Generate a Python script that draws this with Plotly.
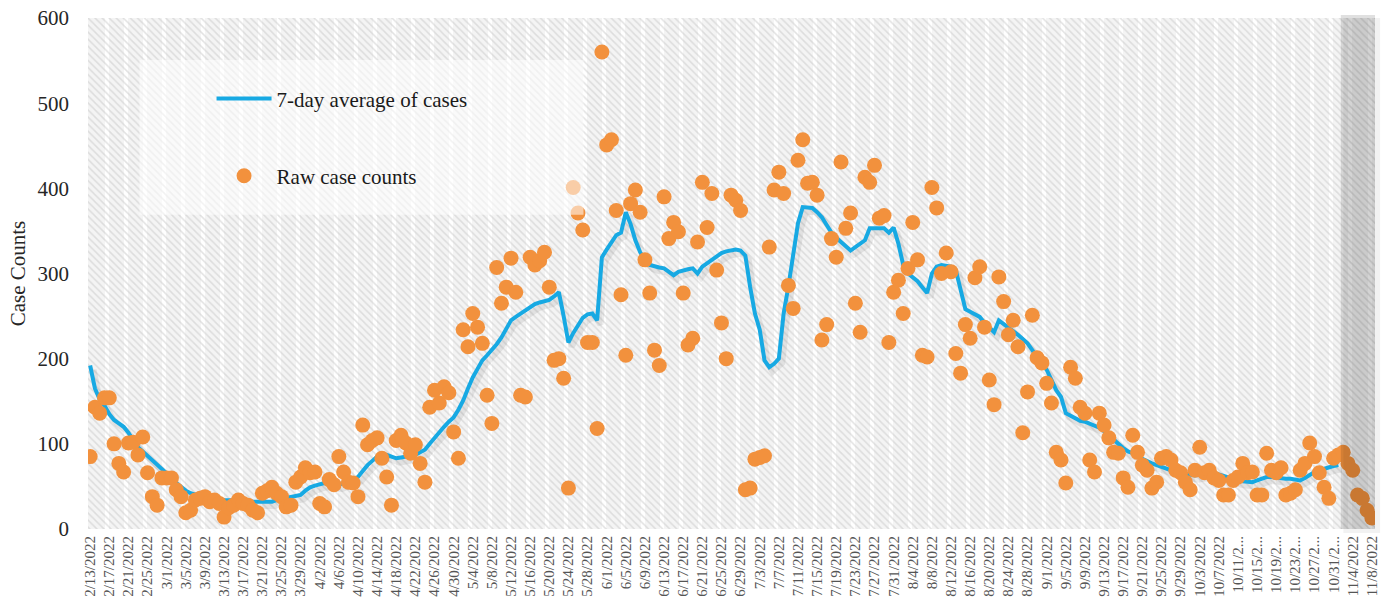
import numpy as np
import pandas as pd
import plotly.graph_objects as go

# daily raw case counts, starting 2/13/2022
START_DATE = "2022-02-13"
raw_cases = [
    85, 143, 136, 154, 154, 100, 77, 67, 101, 102,
    87, 108, 66, 38, 28, 60, 60, 60, 46, 38,
    19, 22, 34, 36, 38, 32, 34, 30, 14, 25,
    28, 34, 30, 28, 22, 19, 42, 45, 49, 42,
    38, 26, 28, 55, 61, 72, 66, 67, 30, 26,
    58, 52, 85, 67, 55, 54, 38, 122, 99, 104,
    107, 83, 61, 28, 104, 110, 101, 89, 99, 77,
    55, 143, 163, 148, 167, 160, 114, 83, 234, 214,
    253, 237, 218, 157, 124, 307, 265, 284, 318, 278,
    157, 155, 319, 310, 315, 325, 284, 198, 200, 177,
    48, 401, 371, 351, 219, 219, 118, 560, 451, 457,
    374, 275, 204, 382, 398, 372, 316, 277, 210, 192,
    390, 341, 360, 349, 277, 216, 224, 337, 407, 354,
    394, 304, 242, 200, 392, 386, 374, 46, 48, 82,
    84, 86, 331, 398, 419, 394, 286, 259, 433, 457,
    406, 407, 392, 222, 240, 341, 319, 431, 353, 371,
    265, 231, 413, 407, 427, 365, 368, 219, 278, 292,
    253, 306, 360, 316, 204, 202, 401, 377, 300, 324,
    302, 206, 183, 240, 224, 295, 308, 237, 175, 146,
    296, 267, 228, 245, 214, 113, 161, 251, 201, 195,
    171, 148, 90, 81, 54, 190, 177, 143, 136, 81,
    67, 136, 122, 107, 90, 89, 60, 49, 110, 90,
    75, 69, 48, 55, 83, 85, 81, 69, 66, 55,
    46, 69, 96, 66, 69, 60, 57, 40, 40, 57,
    61, 77, 66, 67, 40, 40, 89, 69, 66, 72,
    40, 42, 46, 69, 77, 101, 85, 66, 49, 36,
    83, 87, 90, 77, 69, 40, 36, 22, 13,
]

# 7-day average as drawn (ends before the shaded last week)
avg_cases = [
    192, 165, 152, 145, 135, 128, 124, 120, 113, 104,
    96, 91, 86, 81, 76, 71, 66, 60, 54, 49,
    45, 42, 40, 38, 37, 36, 36, 35, 34, 34,
    34, 34, 33, 33, 32, 32, 31, 32, 32, 34,
    35, 36, 38, 39, 40, 45, 49, 51, 53, 54,
    53, 52, 52, 54, 55, 58, 61, 68, 75, 80,
    85, 86, 87, 85, 83, 84, 85, 86, 87, 90,
    93, 100, 107, 113, 120, 126, 131, 140, 151, 165,
    178, 188, 198, 204, 210, 217, 225, 235, 245, 249,
    253, 257, 261, 264, 266, 267, 269, 273, 278, 250,
    219, 230, 240, 248, 252, 253, 245, 319, 328, 336,
    345, 348, 372, 358, 339, 325, 316, 310, 308, 307,
    306, 302, 298, 302, 304, 305, 306, 300, 308, 312,
    316, 320, 324, 326, 327, 328, 327, 321, 284, 253,
    234, 198, 190, 194, 200, 253, 285, 320, 359, 378,
    378, 377, 372, 366, 357, 348, 342, 337, 332, 327,
    331, 335, 339, 353, 353, 354, 353, 348, 354, 335,
    310, 300, 296, 291, 284, 277, 300, 308, 310, 309,
    308, 304, 280, 258, 255, 252, 249, 242, 236, 231,
    245, 241, 237, 233, 228, 223, 218, 210, 201, 194,
    187, 175, 163, 155, 136, 133, 130, 127, 126, 124,
    122, 119, 115, 110, 104, 99, 95, 91, 89, 85,
    82, 79, 77, 75, 73, 70, 68, 67, 66, 65,
    64, 63, 64, 65, 66, 66, 64, 62, 60, 58,
    57, 56, 55, 55, 57, 59, 61, 61, 60, 59,
    59, 59, 58, 57, 60, 64, 67, 69, 71, 72,
    74, 75,
]

Y_MAX = 600
TICK_STEP = 4
FONT = "Liberation Serif"
BLUE = "#17A9E3"
ORANGE = "#F2913D"

dates = pd.date_range(START_DATE, periods=len(raw_cases), freq="D")
day = np.arange(len(raw_cases))
avg_day = np.arange(len(avg_cases))


def short_label(d):
    s = f"{d.month}/{d.day}/{d.year}"
    return s if len(s) <= 9 else s[:7] + "..."


tick_idx = day[::TICK_STEP]
tick_text = [short_label(dates[i]) for i in tick_idx]

x0, x1 = -0.45, len(raw_cases) - 0.35
shade_from = len(avg_cases) - 0.5  # last week not averaged yet


def to_paper(v):
    return (v - x0) / (x1 - x0)


fig = go.Figure()

# hatched plot background
fig.add_trace(go.Bar(
    x=[(x0 + x1) / 2], y=[Y_MAX], width=[x1 - x0],
    marker=dict(color="rgba(0,0,0,0)", line_width=0,
                pattern=dict(shape="\\", fgcolor="#c6c6c6", bgcolor="rgba(0,0,0,0)",
                             size=5, solidity=0.3)),
    showlegend=False, hoverinfo="skip",
))

# soft drop shadow under the average line
fig.add_trace(go.Scatter(
    x=avg_day + 0.7, y=np.array(avg_cases) - 5, mode="lines",
    line=dict(color="rgba(70,70,70,0.11)", width=6),
    showlegend=False, hoverinfo="skip",
))
fig.add_trace(go.Scatter(
    x=avg_day, y=avg_cases, mode="lines", name="7-day average of cases",
    line=dict(color=BLUE, width=4), legendgroup="a",
))
fig.add_trace(go.Scatter(
    x=day, y=raw_cases, mode="markers", name="Raw case counts",
    marker=dict(color=ORANGE, size=15), legendgroup="b",
    customdata=[f"{d.month}/{d.day}/{d.year}" for d in dates],
    hovertemplate="%{customdata}: %{y}<extra></extra>",
))

# shaded final week with its shadow
fig.add_shape(type="rect", xref="paper", yref="paper",
              x0=to_paper(shade_from) + 0.002, x1=to_paper(x1) + 0.004, y0=-0.008, y1=1.0,
              fillcolor="rgba(0,0,0,0.05)", line_width=0, layer="above")
fig.add_shape(type="rect", xref="paper", yref="paper",
              x0=to_paper(shade_from), x1=1.0, y0=0, y1=1.006,
              fillcolor="rgba(0,0,0,0.12)", line_width=0, layer="above")

# pale legend panel
fig.add_shape(type="rect", xref="paper", yref="paper",
              x0=0.040, x1=0.385, y0=0.615, y1=0.918,
              fillcolor="rgba(255,255,255,0.55)", line_width=0, layer="above")

fig.update_layout(
    width=1390, height=610,
    margin=dict(l=88, r=10, t=18, b=81),
    paper_bgcolor="white",
    plot_bgcolor="#f4f4f4",
    font=dict(family=FONT, color="#222222"),
    bargap=0,
    legend=dict(
        x=0.096, y=0.882, xanchor="left", yanchor="top",
        bgcolor="rgba(0,0,0,0)", font=dict(size=21, color="#1a1a1a"),
        traceorder="grouped", tracegroupgap=47, itemwidth=55,
    ),
    hovermode="closest",
)
fig.update_xaxes(
    range=[x0, x1], showgrid=False, zeroline=False, showline=False,
    tickmode="array", tickvals=tick_idx, ticktext=tick_text, tickangle=-90,
    tickfont=dict(size=15, color="#555555"), ticks="", ticklabelstandoff=3,
    minor=dict(tickmode="array", tickvals=np.arange(3.5, x1, TICK_STEP),
               showgrid=True, gridcolor="#ffffff", gridwidth=4, ticks=""),
)
fig.update_yaxes(
    range=[0, Y_MAX], dtick=100, showgrid=False, zeroline=False, showline=False,
    tickfont=dict(size=21, color="#262626"), ticks="", ticklabelstandoff=18,
    title=dict(text="Case Counts", font=dict(size=21, color="#262626"), standoff=6),
    automargin=False,
)

# page body has a default margin; drop it so the figure sits at the top-left
fig.write_html("out.html", config={"displayModeBar": False},
               post_script="document.body.style.margin='0';")
